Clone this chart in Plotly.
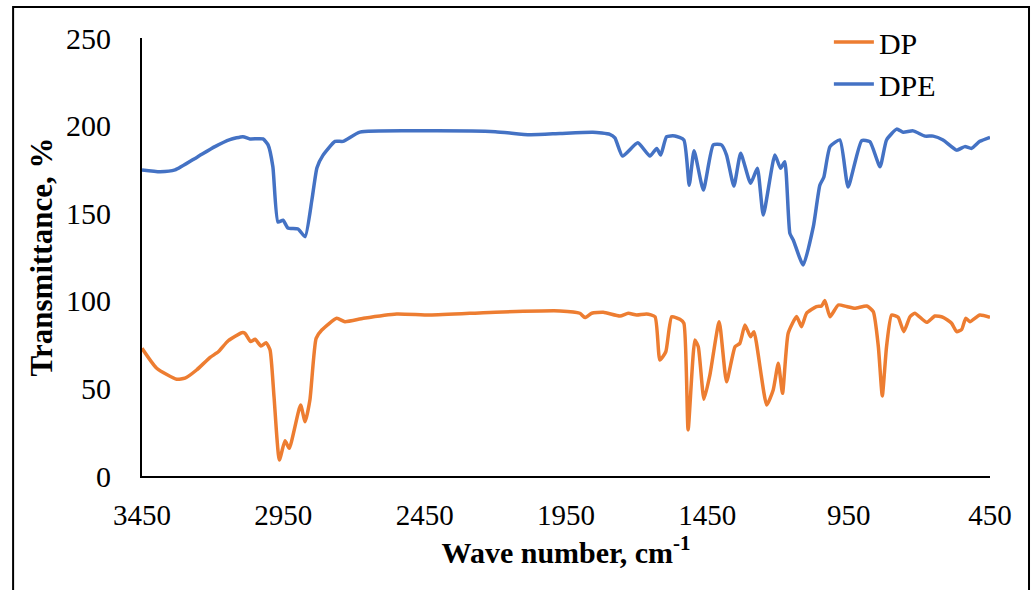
import plotly.graph_objects as go

# FTIR spectra: wave number (cm-1) and transmittance (%)
wn_dpe = [3450, 3386, 3333, 3255, 3192, 3139, 3093, 3068, 3022, 3004, 2987, 2969, 2951, 2934,
          2898, 2873, 2849, 2831, 2810, 2767, 2739, 2679, 2431, 2200, 2077, 1971, 1855, 1795,
          1777, 1750, 1696, 1653, 1629, 1615, 1594, 1565, 1533, 1514, 1497, 1464, 1429, 1400,
          1382, 1356, 1332, 1297, 1273, 1252, 1211, 1191, 1176, 1158, 1146, 1111, 1075, 1052,
          1038, 1016, 981, 952, 904, 875, 839, 816, 780, 757, 722, 680, 651, 616, 568, 539,
          515, 486, 450]
t_dpe = [174.7, 173.7, 174.7, 182.0, 188.0, 192.0, 193.7, 192.4, 192.4, 189.0, 176.5, 145.0,
         146.0, 141.6, 141.0, 136.6, 157.5, 176.0, 183.0, 191.0, 191.0, 196.3, 197.0, 196.5,
         194.8, 195.5, 196.2, 195.0, 193.0, 182.6, 190.2, 182.6, 187.0, 183.2, 193.7, 194.1,
         191.8, 166.0, 185.7, 163.2, 189.0, 189.0, 183.2, 165.5, 184.2, 167.1, 175.6, 149.0,
         183.2, 175.6, 179.4, 138.5, 134.7, 120.4, 142.3, 166.0, 170.5, 188.0, 191.8, 165.0,
         191.4, 190.8, 176.5, 191.8, 198.0, 196.2, 197.0, 194.0, 194.0, 191.8, 186.0, 188.0,
         187.0, 191.0, 193.3]

wn_dp = [3450, 3398, 3327, 3298, 3257, 3209, 3180, 3145, 3097, 3086, 3066, 3050, 3029, 3011,
         2997, 2983, 2964, 2944, 2929, 2889, 2873, 2856, 2834, 2814, 2761, 2732, 2667, 2549,
         2431, 2200, 1971, 1901, 1883, 1859, 1818, 1759, 1730, 1700, 1665, 1635, 1618, 1597,
         1576, 1547, 1533, 1518, 1494, 1482, 1462, 1441, 1408, 1382, 1352, 1335, 1317, 1297,
         1285, 1240, 1217, 1199, 1184, 1164, 1134, 1117, 1099, 1064, 1046, 1034, 1016, 987,
         957, 928, 886, 863, 845, 831, 816, 798, 775, 755, 733, 716, 674, 645, 616, 586, 568,
         550, 536, 521, 486, 450]
t_dp = [72.9, 61.5, 55.2, 55.8, 60.5, 67.7, 70.9, 77.2, 81.8, 81.5, 76.7, 78.0, 74.2, 76.1,
        71.9, 45.3, 9.1, 20.1, 15.8, 40.5, 31.0, 43.4, 78.6, 83.3, 90.0, 88.1, 90.0, 92.5,
        91.9, 93.5, 94.2, 92.9, 90.4, 92.9, 93.4, 91.3, 92.9, 91.9, 92.5, 90.9, 66.2, 70.9,
        90.9, 89.4, 87.2, 26.3, 77.6, 73.8, 43.8, 57.6, 88.1, 53.8, 73.8, 75.7, 86.2, 79.5,
        82.4, 40.5, 49.1, 64.3, 47.2, 81.5, 91.0, 85.2, 92.9, 96.7, 97.0, 100.1, 90.9, 97.6,
        96.7, 95.7, 97.0, 93.8, 73.8, 45.7, 73.8, 91.9, 90.6, 82.4, 90.9, 92.9, 87.7, 91.3,
        90.6, 87.2, 82.4, 83.7, 90.0, 88.1, 91.9, 90.6]

x_ticks = [3450, 2950, 2450, 1950, 1450, 950, 450]
y_ticks = [0, 50, 100, 150, 200, 250]

FONT = "Liberation Serif, Times New Roman, serif"

fig = go.Figure()
fig.add_trace(go.Scatter(x=wn_dp, y=t_dp, name="DP", mode="lines",
                         line=dict(color="#ED7D31", width=3.5, shape="spline", smoothing=0.5)))
fig.add_trace(go.Scatter(x=wn_dpe, y=t_dpe, name="DPE", mode="lines",
                         line=dict(color="#4472C4", width=3.5, shape="spline", smoothing=0.5)))

fig.update_layout(
    width=1036, height=590,
    margin=dict(l=142, r=46, t=38, b=114),
    paper_bgcolor="white", plot_bgcolor="white",
    font=dict(family=FONT, color="black", size=29),
    showlegend=True,
    legend=dict(x=0.81, y=1.05, xanchor="left", yanchor="top",
                font=dict(family=FONT, size=30, color="black"),
                bgcolor="rgba(0,0,0,0)", tracegroupgap=0, itemwidth=40),
    xaxis=dict(range=[3450, 450], tickvals=x_ticks, ticktext=[str(v) for v in x_ticks],
               showgrid=False, zeroline=False, showline=True, linecolor="black", linewidth=2,
               ticks="", ticklabelstandoff=12,
               tickfont=dict(family=FONT, size=29),
               title=dict(text="<b>Wave number, cm<sup>-1</sup></b>", standoff=12,
                          font=dict(family=FONT, size=30))),
    yaxis=dict(range=[0, 250], tickvals=y_ticks, showgrid=False, zeroline=False,
               showline=True, linecolor="black", linewidth=2, ticks="", ticklabelstandoff=23,
               tickfont=dict(family=FONT, size=30),
               title=dict(text="<b>Transmittance, %</b>", standoff=4,
                          font=dict(family=FONT, size=31))),
)

# Frame around the whole chart area
fig.add_shape(type="rect", xref="paper", yref="paper",
              x0=-0.152, x1=1.046, y0=-0.27, y1=1.071,
              line=dict(color="black", width=2), fillcolor="rgba(0,0,0,0)", layer="below")

fig.write_html("out.html")
